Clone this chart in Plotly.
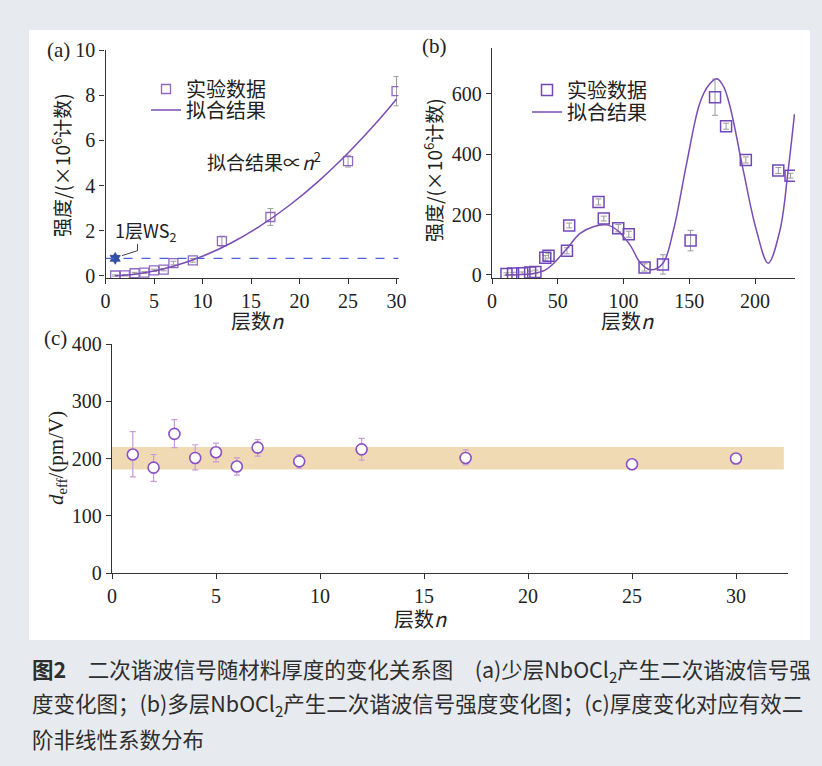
import plotly.graph_objects as go

# ---------------- data ----------------
# (a) few-layer
a_n = [1, 2, 3, 4, 5, 6, 7, 9, 12, 17, 25, 30]
a_val = [0.02, 0.03, 0.12, 0.15, 0.25, 0.28, 0.57, 0.69, 1.54, 2.61, 5.08, 8.18]
a_err = [0.03, 0.03, 0.04, 0.04, 0.05, 0.05, 0.08, 0.08, 0.22, 0.37, 0.26, 0.65]
a_fit_n = [1, 3, 5, 7, 10, 13, 16, 19, 22, 25, 28, 30]
a_fit_v = [0.01, 0.08, 0.22, 0.43, 0.87, 1.47, 2.23, 3.14, 4.21, 5.44, 6.82, 7.83]
ws2_n = [1]
ws2_v = [0.78]

# (b) multi-layer
b_n = [11, 16, 23, 29, 33, 40.5, 43, 57, 58.7, 81, 85, 96, 104, 116, 130, 151, 169.6, 178, 193, 217.7, 227]
b_val = [3, 5, 6, 8, 10, 57, 64, 80, 164, 242, 187, 155, 135, 25, 35, 114, 589, 493, 381, 346, 329]
b_err = [4, 4, 4, 5, 6, 8, 8, 10, 8, 10, 8, 12, 10, 12, 32, 34, 60, 10, 10, 10, 8]
b_fit_n = [10, 20, 30, 40, 47, 57, 67, 77, 87, 95, 105, 113, 121, 130, 138, 148, 158, 165, 171, 176, 181, 191, 201, 210, 219, 225, 230]
b_fit_v = [0, 1, 4, 15, 39, 88, 138, 160, 166, 149, 99, 39, 17, 39, 149, 370, 569, 630, 650, 625, 558, 348, 149, 39, 149, 340, 533]

# (c) d_eff
c_n = [1, 2, 3, 4, 5, 6, 7, 9, 12, 17, 25, 30]
c_val = [207, 184, 243, 201, 211, 186, 219, 195, 216, 201, 190, 200]
c_up = [40, 23, 25, 23, 16, 15, 14, 12, 19, 14, 4, 3]
c_dn = [39, 24, 24, 21, 17, 15, 15, 12, 19, 12, 4, 3]
band_lo, band_hi = 181, 220

W, H = 822, 766
def px(x):
    return x / W
def py(y):
    return 1 - y / H

SERIF = "Liberation Serif, Noto Sans CJK SC"
CJK = "Noto Sans CJK SC, Liberation Serif"
PURPLE = "#7a4db5"
MK = "#9068c4"
GREY = "#9a9a9a"

fig = go.Figure()

# (a)
fig.add_trace(go.Scatter(x=a_n, y=a_val, mode="markers", name="实验数据",
    marker=dict(symbol="square-open", size=9, color=MK, line=dict(width=1.3)),
    error_y=dict(type="data", array=a_err, color=GREY, thickness=1, width=3),
    xaxis="x", yaxis="y", legend="legend"))
fig.add_trace(go.Scatter(x=a_fit_n, y=a_fit_v, mode="lines", name="拟合结果",
    line=dict(color=PURPLE, width=1.5, shape="spline"),
    xaxis="x", yaxis="y", legend="legend2"))
fig.add_trace(go.Scatter(x=ws2_n, y=ws2_v, mode="markers", showlegend=False,
    marker=dict(symbol="hexagram", size=9, color="#2e4fa8", line=dict(width=0.6, color="#1c3580")),
    xaxis="x", yaxis="y"))

# (b)
fig.add_trace(go.Scatter(x=b_n, y=b_val, mode="markers", name="实验数据",
    marker=dict(symbol="square-open", size=11, color="#7148b8", line=dict(width=1.5)),
    error_y=dict(type="data", array=b_err, color=GREY, thickness=1, width=3),
    xaxis="x2", yaxis="y2", legend="legend3"))
fig.add_trace(go.Scatter(x=b_fit_n, y=b_fit_v, mode="lines", name="拟合结果",
    line=dict(color=PURPLE, width=1.5, shape="spline", smoothing=1.0),
    xaxis="x2", yaxis="y2", legend="legend4"))

# (c)
fig.add_trace(go.Scatter(x=c_n, y=c_val, mode="markers", showlegend=False,
    marker=dict(symbol="circle", size=11, color="white", line=dict(width=1.6, color="#8a50c8")),
    error_y=dict(type="data", symmetric=False, array=c_up, arrayminus=c_dn,
                 color="#c99bd6", thickness=1.2, width=3),
    xaxis="x3", yaxis="y3"))

axis_common = dict(showline=True, linecolor="#333", linewidth=1.3, ticks="outside",
                   ticklen=5, tickcolor="#333", tickwidth=1.2, showgrid=False,
                   zeroline=False, automargin=False,
                   tickfont=dict(family=SERIF, size=20, color="#222"))

def leg(x, y):
    return dict(x=px(x), y=py(y), xanchor="left", yanchor="middle",
                font=dict(family=CJK, size=20, color="#222"), bgcolor="rgba(0,0,0,0)",
                itemwidth=30, borderwidth=0)

fig.update_layout(
    width=W, height=H, margin=dict(l=0, r=0, t=0, b=0, pad=0, autoexpand=False),
    paper_bgcolor="#e7eaee", plot_bgcolor="rgba(0,0,0,0)",
    xaxis=dict(domain=[px(105.5), px(398.5)], range=[0, 30.2], tickvals=[0, 5, 10, 15, 20, 25, 30],
               anchor="y", **axis_common),
    yaxis=dict(domain=[py(278), py(50)], range=[-0.09, 10], tickvals=[0, 2, 4, 6, 8, 10],
               anchor="x", **axis_common),
    xaxis2=dict(domain=[px(492), px(795)], range=[0, 230.4], tickvals=[0, 50, 100, 150, 200],
                anchor="y2", **axis_common),
    yaxis2=dict(domain=[py(278), py(48)], range=[-10, 752], tickvals=[0, 200, 400, 600],
                anchor="x2", **axis_common),
    xaxis3=dict(domain=[px(112), px(788)], range=[0, 32.5], tickvals=[0, 5, 10, 15, 20, 25, 30],
                anchor="y3", **axis_common),
    yaxis3=dict(domain=[py(573), py(344)], range=[0, 400], tickvals=[0, 100, 200, 300, 400],
                anchor="x3", **axis_common),
    legend=leg(146, 89), legend2=leg(146, 110),
    legend3=leg(527, 90), legend4=leg(527, 112),
)

shapes = [
    dict(type="rect", xref="paper", yref="paper", x0=px(29), x1=px(810), y0=py(640), y1=py(30),
         fillcolor="white", line=dict(width=0), layer="below"),
    dict(type="line", xref="x", yref="y", x0=0, x1=30.2, y0=ws2_v[0], y1=ws2_v[0],
         line=dict(color="#4f63d8", width=1.2, dash="dash")),
    dict(type="path", xref="x", yref="y", path="M 1.7,0.9 L 3.3,1.12 L 3.3,1.42",
         line=dict(color="#444", width=1)),
    dict(type="rect", xref="x3", yref="y3", x0=0, x1=32.3, y0=band_lo, y1=band_hi,
         fillcolor="#f0dab3", line=dict(width=0), layer="below"),
]
fig.update_layout(shapes=shapes)

def ann(text, x, y, size=18, family=CJK, angle=0, xanchor="center", color="#222"):
    return dict(text=text, x=px(x), y=py(y), xref="paper", yref="paper", showarrow=False,
                font=dict(family=family, size=size, color=color), textangle=angle,
                xanchor=xanchor, yanchor="middle")

anns = [
    ann("(a)", 59, 50, family=SERIF, size=21),
    ann("(b)", 435, 46, family=SERIF, size=21),
    ann("(c)", 55, 338, family=SERIF, size=21),
    ann("强度/(×10<sup>6</sup>计数)", 61, 165, angle=-90, size=19),
    ann("强度/(×10<sup>6</sup>计数)", 433, 170, angle=-90, size=19),
    ann("<i>d</i><sub>eff</sub>/(pm/V)", 57, 458, angle=-90, family=SERIF, size=21),
    ann("层数<i>n</i>", 257, 320, size=20),
    ann("层数<i>n</i>", 627, 321, size=20),
    ann("层数<i>n</i>", 420, 618, size=20),
    ann("拟合结果∝<i>n</i><sup>2</sup>", 264, 161, size=19),
    ann("1层WS<sub>2</sub>", 145, 231, family=CJK, size=18),
]
cap_color = "#2e2e2e"
anns += [
    ann("<b>图2</b>　二次谐波信号随材料厚度的变化关系图　(a)少层NbOCl<sub>2</sub>产生二次谐波信号强",
        30, 670, size=21.5, xanchor="left", color=cap_color),
    ann("度变化图；(b)多层NbOCl<sub>2</sub>产生二次谐波信号强度变化图；(c)厚度变化对应有效二",
        30, 704, size=21.5, xanchor="left", color=cap_color),
    ann("阶非线性系数分布", 30, 738, size=21.5, xanchor="left", color=cap_color),
]
fig.update_layout(annotations=anns)

fig.write_html("out.html", config={"displayModeBar": False},
               post_script="document.body.style.margin='0';document.body.style.padding='0';")
